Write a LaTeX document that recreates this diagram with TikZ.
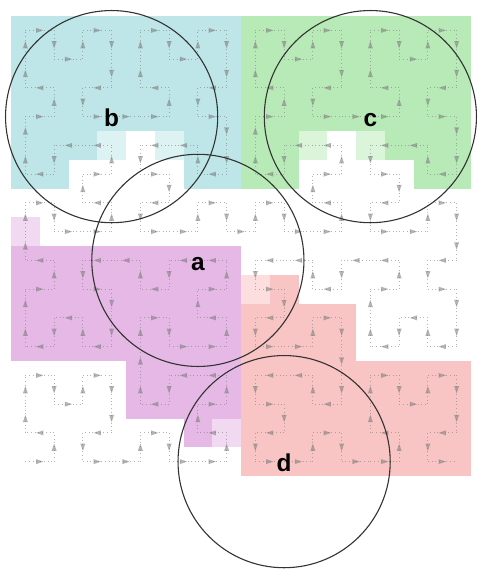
\documentclass[tikz,border=0pt]{standalone}
\usepackage{fontspec}
\setmainfont{Liberation Sans}
\newcount\hcT \newcount\hcX \newcount\hcY \newcount\hcS
\newcount\hcRX \newcount\hcRY \newcount\hcA
\def\hilbertxy#1{%
  \hcT=#1\relax \hcX=0\relax \hcY=0\relax \hcS=1\relax
  \hilbertloop}
\def\hilbertloop{%
  \ifnum\hcS<16\relax
    \hcA=\hcT\relax \divide\hcA by 2\relax
    \hcRX=\hcA\relax \divide\hcRX by 2\relax \multiply\hcRX by 2\relax
    \hcRX=\numexpr\hcA-\hcRX\relax
    \hcA=\hcT\relax \divide\hcA by 2\relax \multiply\hcA by 2\relax
    \hcRY=\numexpr\hcT-\hcA\relax
    \ifnum\hcRX=1\relax \hcRY=\numexpr1-\hcRY\relax\fi
    \ifnum\hcRY=0\relax
      \ifnum\hcRX=1\relax
        \hcX=\numexpr\hcS-1-\hcX\relax
        \hcY=\numexpr\hcS-1-\hcY\relax
      \fi
      \hcA=\hcX\relax \hcX=\hcY\relax \hcY=\hcA\relax
    \fi
    \advance\hcX by \numexpr\hcS*\hcRX\relax
    \advance\hcY by \numexpr\hcS*\hcRY\relax
    \divide\hcT by 4\relax
    \multiply\hcS by 2\relax
    \expandafter\hilbertloop
  \fi}
\definecolor{cB}{RGB}{190,230,232}
\definecolor{cBl}{RGB}{220,242,243}
\definecolor{cG}{RGB}{184,234,184}
\definecolor{cGl}{RGB}{218,245,218}
\definecolor{cP}{RGB}{229,184,229}
\definecolor{cPl}{RGB}{242,217,242}
\definecolor{cR}{RGB}{249,196,196}
\definecolor{cRl}{RGB}{252,222,222}
\tikzset{
  hpath/.style={draw=black!50, opacity=0.6, line width=0.8bp, dash pattern=on 0.9bp off 2.8bp},
  harrow/.style={fill=black!50, opacity=0.6},
  ring/.style={draw=black!80, line width=1.1bp},
  lab/.style={anchor=base, inner sep=0pt, font=\fontsize{24.5}{24.5}\selectfont\bfseries}
}
\begin{document}
\begin{tikzpicture}[x=28.75bp,y=-28.75bp]
\useasboundingbox (-0.38261,-0.55652) rectangle (16.8696,19.5130);
% blue region
\fill[cB] (0,0) rectangle (8,4);
\fill[cB] (0,4) rectangle (3,5);
\fill[cB] (0,5) rectangle (2,6);
\fill[cB] (6,4) rectangle (8,6);
\fill[cBl] (3,4) rectangle (4,5);
\fill[cBl] (5,4) rectangle (6,5);
% green region
\fill[cG] (8,0) rectangle (16,4);
\fill[cG] (8,4) rectangle (10,6);
\fill[cG] (13,4) rectangle (14,5);
\fill[cG] (14,4) rectangle (16,6);
\fill[cGl] (10,4) rectangle (11,5);
\fill[cGl] (12,4) rectangle (13,5);
% purple region
\fill[cPl] (0,7) rectangle (1,8);
\fill[cP] (0,8) rectangle (8,12);
\fill[cP] (4,12) rectangle (8,14);
\fill[cP] (6,14) rectangle (7,15);
\fill[cPl] (7,14) rectangle (8,15);
% pink region
\fill[cRl] (8,9) rectangle (9,10);
\fill[cR] (9,9) rectangle (10,10);
\fill[cR] (8,10) rectangle (12,12);
\fill[cR] (8,12) rectangle (16,16);
% Hilbert curve
\foreach \hd in {0,...,254}{%
  \hilbertxy{\hd}%
  \edef\xa{\the\hcX}\edef\ya{\the\hcY}%
  \hilbertxy{\numexpr\hd+1\relax}%
  \edef\xb{\the\hcX}\edef\yb{\the\hcY}%
  \ifnum\xb>\xa\relax \def\ang{0}\else
    \ifnum\xb<\xa\relax \def\ang{180}\else
      \ifnum\yb>\ya\relax \def\ang{90}\else \def\ang{270}\fi
    \fi
  \fi
  \draw[hpath] (\xa+0.5,15.5-\ya) -- (\xb+0.5,15.5-\yb);
  \fill[harrow,shift={(\xa/2+\xb/2+0.5,15.5-\ya/2-\yb/2)},rotate=\ang]
    (3.6bp,0) -- (-3.6bp,2.5bp) -- (-3.6bp,-2.5bp) -- cycle;
}
% circles and labels
\coordinate (ca) at (6.5,8.5);
\coordinate (cb) at (3.5,3.5);
\coordinate (cc) at (12.5,3.5);
\coordinate (cd) at (9.5,15.5);
\draw[ring] (ca) circle[radius=3.69];
\draw[ring] (cb) circle[radius=3.69];
\draw[ring] (cc) circle[radius=3.69];
\draw[ring] (cd) circle[radius=3.69];
\node[lab] (la) at (6.5,8.84) {a};
\node[lab] (lb) at (3.5,3.84) {b};
\node[lab] (lc) at (12.5,3.84) {c};
\node[lab] (ld) at (9.5,15.84) {d};
\end{tikzpicture}
\end{document}
